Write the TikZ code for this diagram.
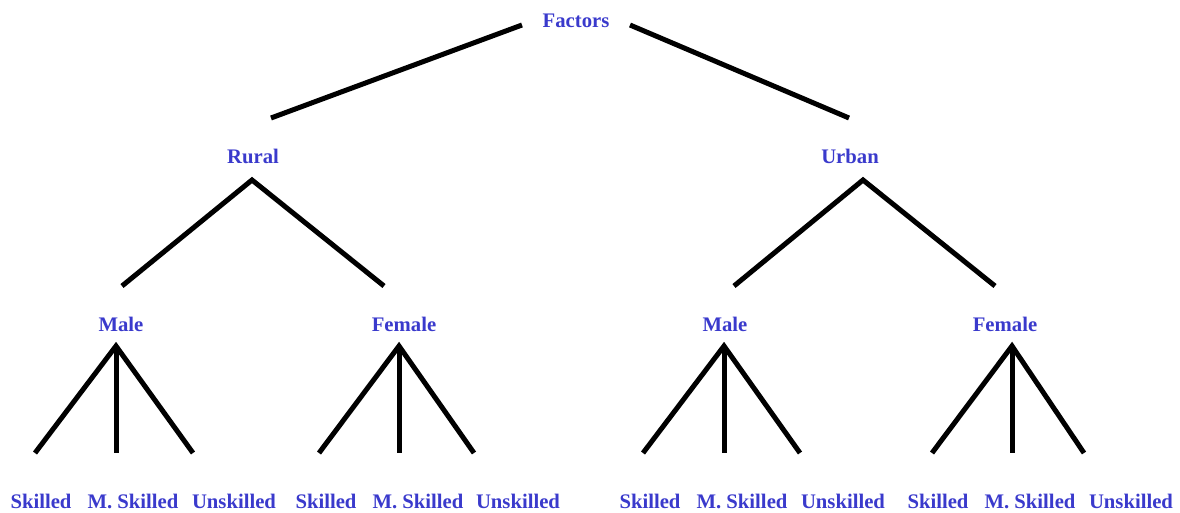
\documentclass[tikz,border=0pt]{standalone}
\usepackage{fontspec}
\setmainfont{Liberation Serif}
\definecolor{lblue}{RGB}{58,58,204}
\begin{document}
\begin{tikzpicture}[x=1pt,y=-1pt,
  lbl/.style={anchor=base,inner sep=0pt,text=lblue,font=\fontsize{20.7}{24}\selectfont\bfseries},
  edge/.style={line width=5pt,black,line cap=butt,line join=miter}]
\useasboundingbox (0,0) rectangle (1180,512);
% labels
\node[lbl] (factors) at (576,27) {Factors};
\node[lbl] (rural) at (253,163) {Rural};
\node[lbl] (urban) at (850,163) {Urban};
\node[lbl] (m1) at (121,331) {Male};
\node[lbl] (f1) at (404,331) {Female};
\node[lbl] (m2) at (725,331) {Male};
\node[lbl] (f2) at (1005,331) {Female};
\node[lbl] (s1) at (41,508) {Skilled};
\node[lbl] (ms1) at (133,508) {M. Skilled};
\node[lbl] (u1) at (234,508) {Unskilled};
\node[lbl] (s2) at (326,508) {Skilled};
\node[lbl] (ms2) at (418,508) {M. Skilled};
\node[lbl] (u2) at (518,508) {Unskilled};
\node[lbl] (s3) at (650,508) {Skilled};
\node[lbl] (ms3) at (742,508) {M. Skilled};
\node[lbl] (u3) at (843,508) {Unskilled};
\node[lbl] (s4) at (938,508) {Skilled};
\node[lbl] (ms4) at (1030,508) {M. Skilled};
\node[lbl] (u4) at (1131,508) {Unskilled};
% line end points
\coordinate (fL) at (522,25);
\coordinate (fR) at (630,25);
\coordinate (rL) at (271,118);
\coordinate (uR) at (849,118);
\coordinate (ra) at (252,180);
\coordinate (ra1) at (122,286);
\coordinate (ra2) at (384,286);
\coordinate (ua) at (863,180);
\coordinate (ua1) at (734,286);
\coordinate (ua2) at (995,286);
\coordinate (m1a) at (116,346);
\coordinate (m1b) at (35,453);
\coordinate (m1c) at (116,453);
\coordinate (m1d) at (193,453);
\coordinate (f1a) at (399,346);
\coordinate (f1b) at (319,453);
\coordinate (f1c) at (399,453);
\coordinate (f1d) at (474,453);
\coordinate (m2a) at (724,346);
\coordinate (m2b) at (643,453);
\coordinate (m2c) at (724,453);
\coordinate (m2d) at (800,453);
\coordinate (f2a) at (1012,346);
\coordinate (f2b) at (932,453);
\coordinate (f2c) at (1012,453);
\coordinate (f2d) at (1084,453);
% connectors
\draw[edge] (fL) -- (rL);
\draw[edge] (fR) -- (uR);
\draw[edge] (ra1) -- (ra) -- (ra2);
\draw[edge] (ua1) -- (ua) -- (ua2);
\draw[edge] (m1b) -- (m1a) -- (m1d);
\draw[edge] (m1a) -- (m1c);
\draw[edge] (f1b) -- (f1a) -- (f1d);
\draw[edge] (f1a) -- (f1c);
\draw[edge] (m2b) -- (m2a) -- (m2d);
\draw[edge] (m2a) -- (m2c);
\draw[edge] (f2b) -- (f2a) -- (f2d);
\draw[edge] (f2a) -- (f2c);
\end{tikzpicture}
\end{document}
